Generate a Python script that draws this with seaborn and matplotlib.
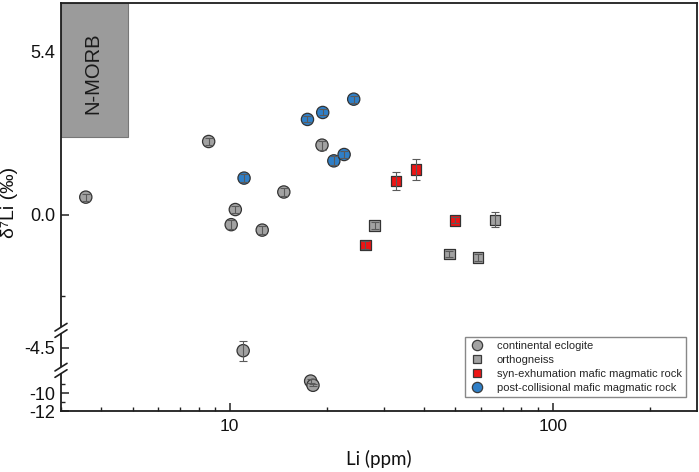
import numpy as np
import pandas as pd
import matplotlib
matplotlib.use("Agg")
import matplotlib.pyplot as plt
import seaborn as sns
from matplotlib.lines import Line2D
from matplotlib.patches import Rectangle
from matplotlib.ticker import FixedLocator, FixedFormatter, LogLocator, NullFormatter

# ---------------- data ----------------
groups = ["continental eclogite", "orthogneiss",
          "syn-exhumation mafic magmatic rock", "post-collisional mafic magmatic rock"]

ecl_li = [3.58, 8.6, 10.4, 10.1, 12.6, 14.7, 19.3, 11.0, 17.8, 18.1]
ecl_d7 = [0.58, 2.42, 0.17, -0.33, -0.51, 0.75, 2.30, -4.6, -8.67, -9.14]
ecl_err = [0.12, 0.12, 0.12, 0.15, 0.12, 0.12, 0.15, 0.33, 0.2, 0.1]

orth_li = [28.1, 47.9, 58.6, 66.4]
orth_d7 = [-0.36, -1.30, -1.41, -0.17]
orth_err = [0.12, 0.1, 0.12, 0.25]

syn_li = [26.3, 32.7, 37.7, 49.9]
syn_d7 = [-1.0, 1.11, 1.49, -0.19]
syn_err = [0.12, 0.29, 0.35, 0.1]

post_li = [11.07, 17.4, 19.4, 24.2, 21.0, 22.6]
post_d7 = [1.21, 3.15, 3.38, 3.82, 1.78, 1.99]
post_err = [0.12, 0.1, 0.1, 0.12, 0.15, 0.12]

# N-MORB field
morb_li = [3.0, 4.85]
morb_d7 = [2.58, 7.0]

y_ticks = [-12, -10, -4.5, 0.0, 5.4]
y_ticklabels = ["-12", "-10", "-4.5", "0.0", "5.4"]
y_minor = [-11, -9, -2.7, 2.7]
x_ticks = [10, 100]
x_ticklabels = ["10", "100"]

# ---------------- table ----------------
df = pd.concat([
    pd.DataFrame({"Li": ecl_li, "d7Li": ecl_d7, "err": ecl_err, "group": groups[0]}),
    pd.DataFrame({"Li": orth_li, "d7Li": orth_d7, "err": orth_err, "group": groups[1]}),
    pd.DataFrame({"Li": syn_li, "d7Li": syn_d7, "err": syn_err, "group": groups[2]}),
    pd.DataFrame({"Li": post_li, "d7Li": post_d7, "err": post_err, "group": groups[3]}),
], ignore_index=True)

palette = {groups[0]: "#a2a2a2", groups[1]: "#a2a2a2",
           groups[2]: "#ee1515", groups[3]: "#2f7fc7"}
markers = {groups[0]: "o", groups[1]: "s", groups[2]: "s", groups[3]: "o"}
sizes = {groups[0]: 78, groups[1]: 56, groups[2]: 56, groups[3]: 78}

# ---------------- broken y scale (piecewise linear) ----------------
BRK_V = np.array([-12.0, -7.5, -5.25, -3.93, -3.82, 7.0])
BRK_U = -np.array([410.7, 370.2, 369.8, 330.2, 329.8, 2.2])


def _pw(v, xs, ys):
    v = np.asarray(v, dtype=float)
    out = np.interp(v, xs, ys)
    s0 = (ys[1] - ys[0]) / (xs[1] - xs[0])
    s1 = (ys[-1] - ys[-2]) / (xs[-1] - xs[-2])
    out = np.where(v < xs[0], ys[0] + (v - xs[0]) * s0, out)
    out = np.where(v > xs[-1], ys[-1] + (v - xs[-1]) * s1, out)
    return out


def fwd(v):
    return _pw(v, BRK_V, BRK_U)


def inv(u):
    return _pw(u, BRK_U, BRK_V)


# ---------------- figure ----------------
sns.set_theme(style="ticks")
plt.rcParams["font.family"] = ["Liberation Sans", "DejaVu Sans"]

W, H = 699, 472
fig = plt.figure(figsize=(W / 100, H / 100), dpi=100)
ax = fig.add_axes([61 / W, 1 - 411 / H, 636 / W, 408 / H])

ax.set_xscale("log")
ax.set_yscale("function", functions=(fwd, inv))

sns.scatterplot(data=df, x="Li", y="d7Li", hue="group", style="group", size="group",
                palette=palette, markers=markers, sizes=sizes,
                edgecolor="#333333", linewidth=0.9, legend=False, ax=ax, zorder=3)

ax.errorbar(df["Li"], df["d7Li"], yerr=df["err"], fmt="none", ecolor="#5a5a5a",
            elinewidth=0.8, capsize=3, capthick=0.8, zorder=4)

# N-MORB field
ax.add_patch(Rectangle((morb_li[0], morb_d7[0]), morb_li[1] - morb_li[0],
                       morb_d7[1] - morb_d7[0], facecolor="#9b9b9b",
                       edgecolor="#777777", linewidth=0.8, zorder=1))
ax.text(3.76, 4.68, "N-MORB", rotation=90, ha="center", va="center",
        fontsize=14.5, color="#1a1a1a", zorder=2)

ax.set_xlim(3, 280)
ax.set_ylim(-12, 7.0)

ax.xaxis.set_major_locator(FixedLocator(x_ticks))
ax.xaxis.set_major_formatter(FixedFormatter(x_ticklabels))
ax.xaxis.set_minor_locator(LogLocator(base=10, subs=np.arange(2, 10)))
ax.xaxis.set_minor_formatter(NullFormatter())
ax.yaxis.set_major_locator(FixedLocator(y_ticks))
ax.yaxis.set_major_formatter(FixedFormatter(y_ticklabels))
ax.yaxis.set_minor_locator(FixedLocator(y_minor))
ax.yaxis.set_minor_formatter(NullFormatter())

ax.tick_params(axis="both", which="major", direction="in", length=6, width=1.1,
               colors="#222222", labelcolor="#111111")
ax.tick_params(axis="x", which="major", labelsize=12.5, pad=6)
ax.tick_params(axis="y", which="major", labelsize=13, pad=4)
ax.tick_params(axis="both", which="minor", direction="in", length=3, width=1.0,
               colors="#222222")
ax.tick_params(top=False, right=False, which="both")

for sp in ax.spines.values():
    sp.set_linewidth(1.3)
    sp.set_color("#1e1e1e")

ax.set_xlabel("Li (ppm)", fontsize=13.5, family=["Lato", "DejaVu Sans"], color="#111111")
ax.set_ylabel("δ⁷Li (‰)", fontsize=14, color="#111111")
ax.xaxis.set_label_coords(0.5, -0.095)
ax.yaxis.set_label_coords(-0.068, 0.51)

# legend
handles = []
for g in groups:
    m = markers[g]
    handles.append(Line2D([], [], ls="none", marker=m, markersize=7.4 if m == "o" else 6.2,
                          markerfacecolor=palette[g], markeredgecolor="#3a3a3a",
                          markeredgewidth=0.9, label=g))
leg = ax.legend(handles=handles, loc="lower right", bbox_to_anchor=(0.986, 0.03),
                fontsize=8.0, frameon=True, fancybox=False, framealpha=1,
                edgecolor="#888888", borderpad=0.35, labelspacing=0.34,
                handletextpad=1.1, handlelength=1.4, borderaxespad=0.2)
leg.get_frame().set_linewidth(1.0)

# axis-break marks on the left spine
fig.canvas.draw()
to_fig = fig.transFigure.inverted()
x0 = ax.transAxes.transform((0, 0))[0]
for vb in [-3.875, -6.4]:
    yc = ax.transData.transform((10, vb))[1]
    (gx0, gy0) = to_fig.transform((x0 - 3, yc - 3))
    (gx1, gy1) = to_fig.transform((x0 + 3, yc + 3))
    fig.add_artist(Rectangle((gx0, gy0), gx1 - gx0, gy1 - gy0, transform=fig.transFigure,
                             facecolor="white", edgecolor="none", zorder=10))
    for d in (-3.2, 3.2):
        p0 = to_fig.transform((x0 - 6, yc + d - 3.8))
        p1 = to_fig.transform((x0 + 6, yc + d + 3.8))
        fig.add_artist(Line2D([p0[0], p1[0]], [p0[1], p1[1]], transform=fig.transFigure,
                              color="#1e1e1e", linewidth=1.2, zorder=11))

fig.savefig("out.png", dpi=100)
